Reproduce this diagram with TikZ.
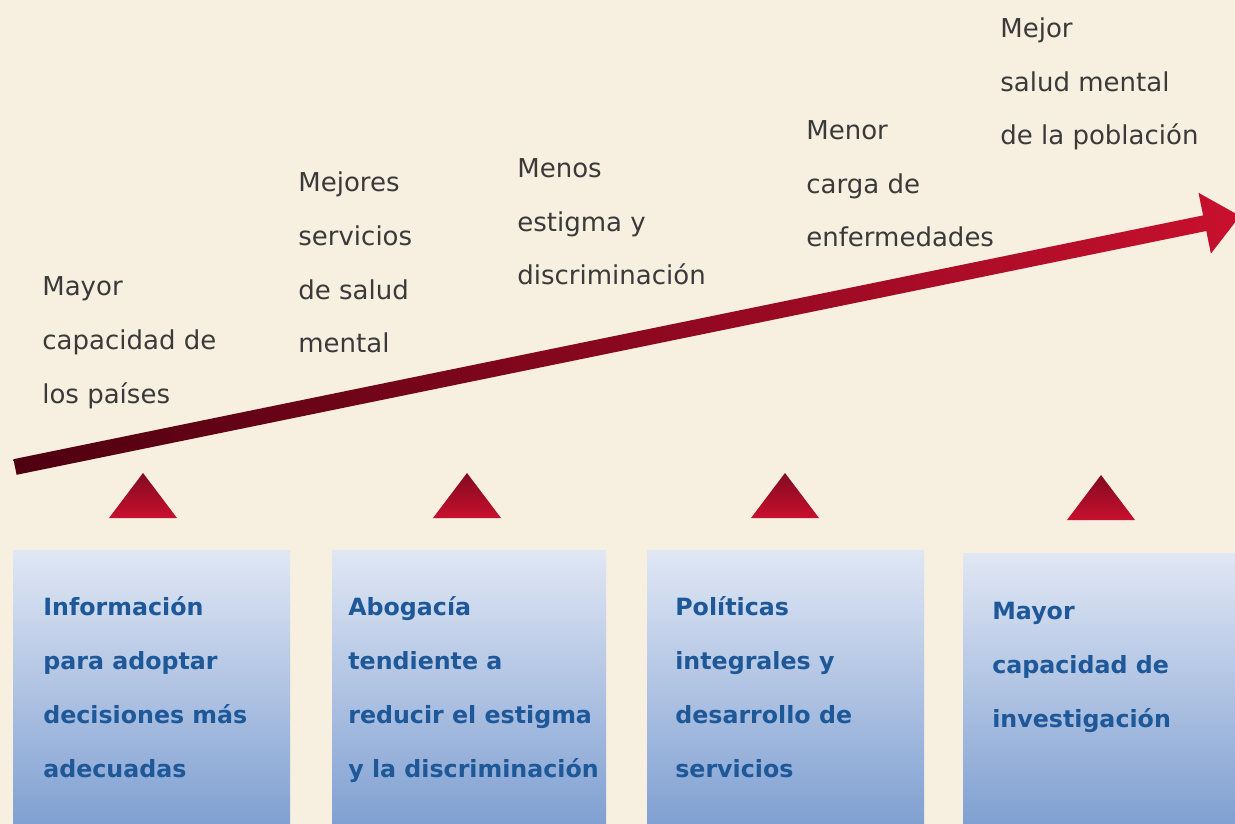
\documentclass[tikz,border=0pt]{standalone}
\usepackage{fontspec}
\setmainfont{DejaVu Sans}
\definecolor{crema}{RGB}{247,239,224}
\definecolor{granate}{RGB}{78,0,16}
\definecolor{rojo}{RGB}{200,16,46}
\definecolor{rojoosc}{RGB}{130,10,32}
\definecolor{azultxt}{RGB}{30,88,152}
\definecolor{azulclaro}{RGB}{224,231,244}
\definecolor{azulosc}{RGB}{128,160,210}
\definecolor{gristxt}{RGB}{58,58,58}
\tikzset{
  lbl/.style={anchor=base west, inner sep=0pt, align=left, text=gristxt,
    font=\fontsize{14.8}{30.7}\selectfont},
  boxtxt/.style={anchor=base west, inner sep=0pt, align=left, text=azultxt,
    font=\fontsize{13.5}{30.7}\selectfont\bfseries},
  boxfill/.style={top color=azulclaro, bottom color=azulosc},
  tri/.style={top color=rojoosc, bottom color=rojo}
}
\begin{document}
\begin{tikzpicture}[x=0.02cm, y=-0.02cm, line join=round]
\fill[crema] (0,0) rectangle (1235,824);
\useasboundingbox (0,0) rectangle (1235,824);
% flecha
\coordinate (cola) at (15,467);
\coordinate (punta) at (1240,216);
\shade[left color=granate, right color=rojo]
  (13.4,459.2) -- (1203.1,215.4) -- (1198.5,192.8) -- (punta)
  -- (1210.9,253.6) -- (1206.3,231.0) -- (16.6,474.8) -- cycle;
% resultados (base = ultima linea)
\node[lbl] (paises) at (42,403) {Mayor\\capacidad de\\los países};
\node[lbl] (servicios) at (298,353) {Mejores\\servicios\\de salud\\mental};
\node[lbl] (estigma) at (517,285) {Menos\\estigma y\\discriminación};
\node[lbl] (carga) at (806,247) {Menor\\carga de\\enfermedades};
\node[lbl] (salud) at (1000,145) {Mejor\\salud mental\\de la población};
% triangulos
\foreach \x/\y in {143/518, 467/518, 785/518, 1101/520}
  \shade[tri] (\x-34,\y) -- (\x,\y-45) -- (\x+34,\y) -- cycle;
% cajas
\shade[boxfill] (13,550) rectangle (290,824);
\shade[boxfill] (332,550) rectangle (606,824);
\shade[boxfill] (647,550) rectangle (924,824);
\shade[boxfill] (963,553) rectangle (1235,824);
\node[boxtxt] (info) at (43,777) {Información\\para adoptar\\decisiones más\\adecuadas};
\node[boxtxt] (abog) at (348,777) {Abogacía\\tendiente a\\reducir el estigma\\y la discriminación};
\node[boxtxt] (pol) at (675,777) {Políticas\\integrales y\\desarrollo de\\servicios};
\node[boxtxt] (inv) at (992,727) {Mayor\\capacidad de\\investigación};
\end{tikzpicture}
\end{document}
